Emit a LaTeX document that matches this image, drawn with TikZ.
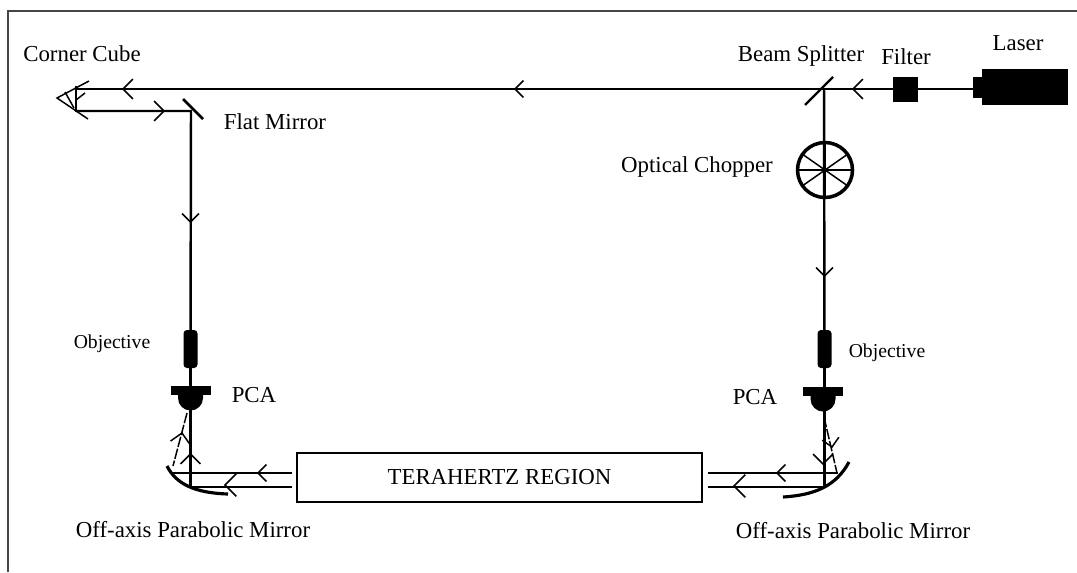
\documentclass[tikz,border=0pt]{standalone}
\usepackage{fontspec}
\setmainfont{Liberation Serif}
\usepackage{xcolor}
\usetikzlibrary{
	calc,
	positioning
}
\definecolor{FrameGray}{RGB}{70,70,70}
\tikzset{
	beam/.style={line width=1.4pt},
	thinbeam/.style={line width=0.85pt},
	raybeam/.style={line width=0.85pt, dash pattern=on 6pt off 1pt},
	part/.style={fill=black, draw=none},
	tag/.style={inner sep=0pt, font=\fontsize{13}{15}\selectfont},
	smalltag/.style={inner sep=0pt, font=\fontsize{11.2}{13}\selectfont},
}
% chevron on a beam: size (optional), position, direction angle
\newcommand{\chev}[3][12]{\draw[thinbeam] (#2) ++(#3+135:#1) -- (#2) -- ++(#3-135:#1);}

\begin{document}
\begin{tikzpicture}[x=0.02cm, y=-0.02cm]
	\useasboundingbox (0,0) rectangle (1077,572);
	\draw[line width=1.1pt, FrameGray] (8,572) -- (8,11) -- (1077,11);

	\coordinate (CubeTop) at (76,89);
	\coordinate (CubeBot) at (76,111);
	\coordinate (Flat) at (191,111);
	\coordinate (Split) at (824,89);
	\coordinate (Las) at (975,89);
	\coordinate (ChopC) at (825,170);
	\coordinate (ObjL) at (190.5,349);
	\coordinate (ObjR) at (824.5,349);
	\coordinate (PcaL) at (190.5,395);
	\coordinate (PcaR) at (823,396);
	\coordinate (FootL) at (190.5,487);
	\coordinate (FootR) at (824.5,487);
	\coordinate (InL) at (292,487);
	\coordinate (InR) at (708,487);
	\coordinate (UpL) at (292,473);
	\coordinate (UpR) at (708,473);
	\coordinate (MirL) at (172,473);
	\coordinate (MirR) at (838,473);

	% the box in the middle
	\node[draw, line width=1.1pt, minimum width=8.1cm, minimum height=0.98cm, tag] (Region) at (499.5,477.5) {TERAHERTZ REGION};

	% beams
	\draw[beam] (Las) -- (CubeTop);
	\draw[beam] (CubeBot) -- (Flat) -- (ObjL);
	\draw[beam] (Split) -- (ObjR);
	\draw[beam] (ObjL) -- (FootL) -- (InL);
	\draw[beam] (ObjR) -- (FootR) -- (InR);
	\draw[thinbeam] (MirL) -- (UpL);
	\draw[thinbeam] (MirR) -- (UpR);

	% corner cube
	\draw[thinbeam] (89,81) -- (57,98) -- (88,119);
	\draw[thinbeam] (76,86) -- (76,112);
	\draw[thinbeam] (65,92) -- (74,108);
	\draw[thinbeam] (85,93) -- (76,100);
	% mirrors
	\draw[line width=1.5pt] (183,99) -- (203,119);
	\draw[line width=1.3pt] (805,105) -- (833,77);
	% filter and laser
	\fill[part] (893,77) rectangle (918,102);
	\fill[part] (973,77) rectangle (983,98);
	\fill[part] (982,69) rectangle (1068,105);
	% chopper
	\draw[line width=2pt] (ChopC) circle (27.5);
	\foreach \a in {0,35,90,145,180,215,270,325}
		\draw[thinbeam] (ChopC) -- ++(\a:27);

	% objectives and PCAs
	\foreach \o/\p in {ObjL/PcaL,ObjR/PcaR}{
		\fill[part, rounded corners=2pt] (\o) ++(-7,-19) rectangle ++(14,38);
		\fill[part] (\p) ++(-20,-9) rectangle ++(40,9);
		\fill[part] (\p) ++(-12.5,-1) -- ++(25,0) -- ++(0,4) arc (0:180:12.5) -- cycle;
	}

	% parabolic mirrors
	\draw[line width=1.8pt] (167,466) .. controls (176,484) and (195,493) .. (228,494);
	\draw[line width=1.8pt] (849,462) .. controls (836,486) and (815,495) .. (783,497);
	% rays from PCA to mirror
	\draw[raybeam] (187,413) -- (173,466);
	\draw[raybeam] (824,417) -- (837,473);

	% direction marks
	\chev{515,89}{180}
	\chev[14]{123,89}{180}
	\chev[14]{164,111}{0}
	\chev[14]{853,89}{180}
	\chev{190.5,222}{90}
	\chev{824.5,276}{90}
	\chev{258,473}{180}
	\chev[16]{225,485}{180}
	\chev{777,473}{180}
	\chev[16]{734,486}{180}
	\chev[14]{190.5,454}{-90}
	\chev[14]{182,433}{-80}
	\chev[14]{823,464}{90}
	\chev[12]{832,447}{80}

	% labels
	\node[tag] (LabCube) at (82,54) {Corner Cube};
	\node[tag] (LabFlat) at (275,122) {Flat Mirror};
	\node[tag] (LabSplit) at (801,56) {Beam Splitter};
	\node[tag] (LabFilter) at (906,57) {Filter};
	\node[tag] (LabLaser) at (1018,43) {Laser};
	\node[tag] (LabChop) at (697,167) {Optical Chopper};
	\node[smalltag] (LabObjL) at (112,344) {Objective};
	\node[smalltag] (LabObjR) at (887,353) {Objective};
	\node[tag] (LabPcaL) at (254,395) {PCA};
	\node[tag] (LabPcaR) at (755,397) {PCA};
	\node[tag] (LabMirL) at (193,530) {Off-axis Parabolic Mirror};
	\node[tag] (LabMirR) at (853,531) {Off-axis Parabolic Mirror};
\end{tikzpicture}
\end{document}
